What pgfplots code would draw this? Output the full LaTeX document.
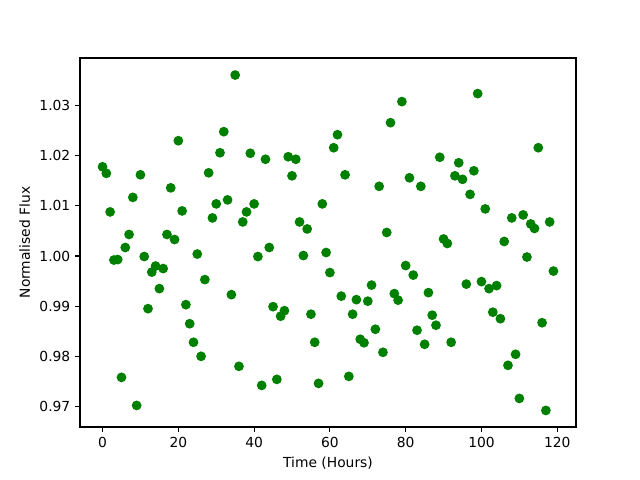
\documentclass[border=0pt]{standalone}
\usepackage{pgfplots}
\pgfplotsset{compat=1.18}
\usepackage{fontspec}
\setmainfont{DejaVu Sans}
\definecolor{mplgreen}{RGB}{0,128,0}
\begin{document}
\begin{tikzpicture}
\begin{axis}[
  scale only axis,
  width=4.96in, height=3.69in,
  xmin=-5.95, xmax=124.95,
  ymin=0.9659, ymax=1.0395,
  xtick={0,20,40,60,80,100,120},
  ytick={0.97,0.98,0.99,1.00,1.01,1.02,1.03},
  yticklabel style={/pgf/number format/.cd,fixed,fixed zerofill,precision=2},
  /pgf/number format/assume math mode=true,
  tick align=outside, tick pos=left,
  major tick length=3.5pt,
  tick style={black, line width=0.8pt},
  axis line style={line width=0.8pt},
  ticklabel style={font=\fontsize{10}{12}\selectfont},
  label style={font=\fontsize{10}{12}\selectfont},
  xlabel={Time (Hours)}, ylabel={Normalised Flux},
]
\addplot[only marks, mark=*, mark size=3pt, color=mplgreen, mark options={draw=mplgreen, fill=mplgreen, line width=1pt}] table {
x y
0 1.0178
1 1.0165
2 1.0088
3 0.9992
4 0.9993
5 0.9758
6 1.0017
7 1.0043
8 1.0117
9 0.9702
10 1.0162
11 0.9999
12 0.9895
13 0.9968
14 0.9980
15 0.9935
16 0.9975
17 1.0043
18 1.0136
19 1.0033
20 1.0230
21 1.0090
22 0.9903
23 0.9865
24 0.9828
25 1.0004
26 0.9800
27 0.9953
28 1.0166
29 1.0076
30 1.0104
31 1.0206
32 1.0248
33 1.0112
34 0.9923
35 1.0361
36 0.9780
37 1.0068
38 1.0088
39 1.0205
40 1.0104
41 0.9999
42 0.9742
43 1.0193
44 1.0017
45 0.9899
46 0.9754
47 0.9880
48 0.9891
49 1.0198
50 1.0160
51 1.0193
52 1.0068
53 1.0001
54 1.0054
55 0.9884
56 0.9828
57 0.9746
58 1.0104
59 1.0007
60 0.9967
61 1.0216
62 1.0242
63 0.9920
64 1.0162
65 0.9760
66 0.9884
67 0.9913
68 0.9834
69 0.9827
70 0.9910
71 0.9942
72 0.9854
73 1.0139
74 0.9808
75 1.0047
76 1.0266
77 0.9925
78 0.9912
79 1.0308
80 0.9981
81 1.0156
82 0.9962
83 0.9852
84 1.0139
85 0.9824
86 0.9927
87 0.9882
88 0.9862
89 1.0197
90 1.0034
91 1.0025
92 0.9828
93 1.0160
94 1.0186
95 1.0153
96 0.9944
97 1.0123
98 1.0170
99 1.0324
100 0.9949
101 1.0094
102 0.9935
103 0.9888
104 0.9941
105 0.9875
106 1.0029
107 0.9782
108 1.0076
109 0.9804
110 0.9716
111 1.0082
112 0.9998
113 1.0064
114 1.0055
115 1.0216
116 0.9867
117 0.9692
118 1.0068
119 0.9970
};
\end{axis}
\path (current axis.south west) ++(-0.80in,-0.53in) coordinate (a);
\path (current axis.north east) ++(0.64in,0.58in) coordinate (b);
\useasboundingbox (a) rectangle (b);
\end{tikzpicture}
\end{document}
